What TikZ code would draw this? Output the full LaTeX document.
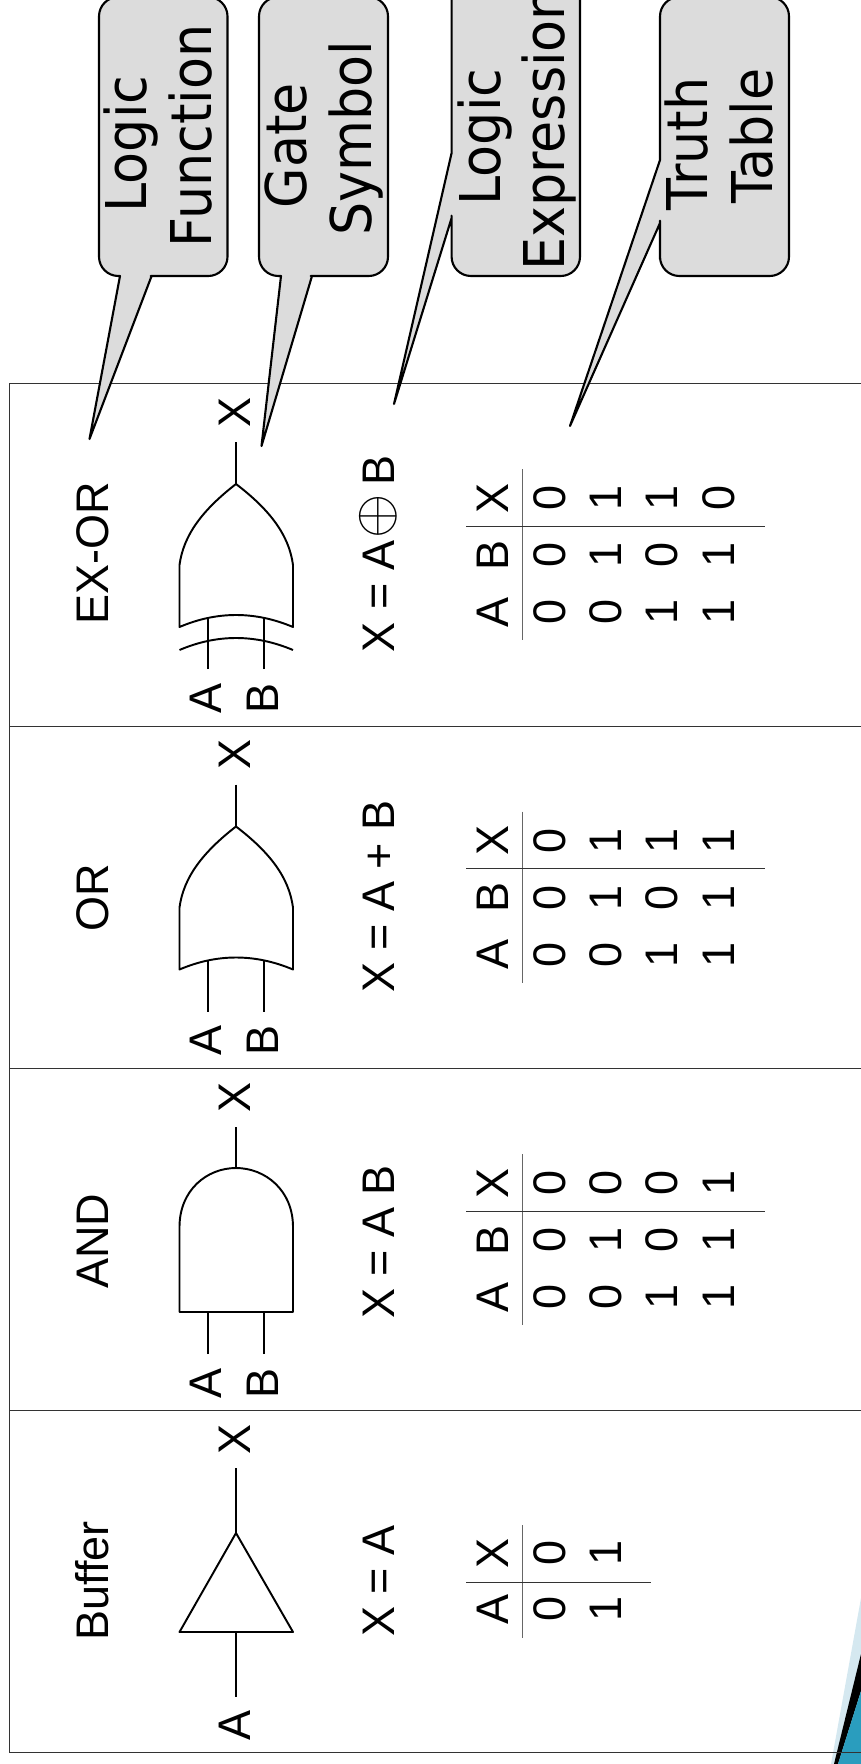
\documentclass[tikz,border=0pt]{standalone}
\usepackage{fontspec}
\setmainfont[FakeStretch=0.985]{Liberation Sans}
\newfontfamily\BubbleFont[FakeStretch=0.93]{DejaVu Sans}
\definecolor{BubbleFill}{HTML}{DCDCDC}
\definecolor{WedgeLight}{HTML}{D5E8F0}
\definecolor{WedgeTeal}{HTML}{2A9DBE}
\tikzset{
  gatetext/.style={rotate=90,anchor=base,inner sep=0pt,font=\fontsize{26}{30}\selectfont},
  bubbletext/.style={rotate=90,align=center,inner sep=0pt,font=\BubbleFont\fontsize{32}{36.5}\selectfont},
  bubble/.style={draw=black,fill=BubbleFill,line width=1.2pt,line join=round},
  gateline/.style={line width=1.1pt,line join=round},
  frameline/.style={line width=0.45pt,color=black!80},
}
\begin{document}
\begin{tikzpicture}[line cap=butt,x=0.02cm,y=-0.02cm]
  \useasboundingbox (0,0) rectangle (861,1764);
  \clip (0,0) rectangle (861,1764);
  % corner of the slide
  \fill[WedgeLight] (831,1764) -- (861,1598) -- (861,1764) -- cycle;
  \fill[black] (834,1764) -- (861,1654) -- (861,1691) -- (838,1764) -- cycle;
  \fill[WedgeTeal] (838,1764) -- (861,1691) -- (861,1764) -- cycle;
  % frame
  \draw[frameline] (861,383) -- (9,383) -- (9,1752) -- (861,1752);
  \foreach \y in {726,1068,1410}
  \draw[frameline] (9,\y) -- (861,\y);
  % callouts
  \coordinate (fnTip) at (89.5,439);
  \coordinate (symTip) at (261.5,446);
  \coordinate (exprTip) at (394,404);
  \coordinate (tblTip) at (570,426);
  \draw[bubble,rounded corners=11pt] (99,-3) -- (227.5,-3) -- (227.5,276) -- (170,276) [sharp corners] -- (151.6,276) -- (fnTip) -- (120,276) [rounded corners=11pt] -- (99,276) -- cycle;
  \draw[bubble,rounded corners=11pt] (259,-3) -- (388,-3) -- (388,276) -- (330,276) [sharp corners] -- (312,276) -- (symTip) -- (281,276) [rounded corners=11pt] -- (259,276) -- cycle;
  \draw[bubble,rounded corners=11pt] (451.6,-40) -- (580,-40) -- (580,276) -- (451.6,276) -- (451.6,235) [sharp corners] -- (451.6,218) -- (exprTip) -- (451.6,153) [rounded corners=11pt] -- cycle;
  \draw[bubble,rounded corners=11pt] (660,-3) -- (789,-3) -- (789,276) -- (660,276) -- (660,240) [sharp corners] -- (660,223) -- (tblTip) -- (660,160) [rounded corners=11pt] -- cycle;
  \node[bubbletext] (fnText) at (158,136) {Logic\kern9pt\\Function};
  \node[bubbletext] (symText) at (324,138) {Gate\kern9pt\\Symbol};
  \node[bubbletext] (exprText) at (517,129) {Logic\kern9pt\\Expression};
  \node[bubbletext] (tblText) at (719,136) {Truth\kern9pt\\Table};
  % names of the functions
  \node[gatetext] (xorName) at (108,553) {EX-OR};
  \node[gatetext] (orName) at (108,898) {OR};
  \node[gatetext] (andName) at (108,1241) {AND};
  \node[gatetext] (bufName) at (108,1581) {Buffer};
  % expressions
  \node[gatetext] (xorExpr) at (394,554) {X = A\kern1.5pt\raisebox{1pt}{\scalebox{1.3}{$\oplus$}}\kern4.5pt B};
  \node[gatetext] (orExpr) at (394,896.5) {X = A + B};
  \node[gatetext] (andExpr) at (394,1242) {X = A B};
  \node[gatetext] (bufExpr) at (394,1581) {X = A};
  % gate bodies
  \draw[gateline] (236,484) .. controls (270,510) and (289,535) .. (293,565) -- (293,627)
    .. controls (255,611) and (217,611) .. (179.5,627) -- (179.5,565)
    .. controls (183.5,535) and (202.5,510) .. (236,484);
  \draw[gateline] (179.5,650) .. controls (217,634) and (255,634) .. (293,650);
  \draw[gateline] (236,826.5) .. controls (270,852.5) and (289,877.5) .. (293,907.5) -- (293,969.5)
    .. controls (255,953.5) and (217,953.5) .. (179.5,969.5) -- (179.5,907.5)
    .. controls (183.5,877.5) and (202.5,852.5) .. (236,826.5);
  \draw[gateline] (179.5,1312) -- (293,1312) -- (293,1227) .. controls (293,1190) and (265,1168) .. (236,1168)
    .. controls (207,1168) and (179.5,1190) .. (179.5,1227) -- cycle;
  \draw[gateline] (236,1533) -- (293,1632) -- (179.5,1632) -- cycle;
  % pins, labels and truth tables of the two input gates
  \foreach \gname/\rowy/\pintop/\bodytop/\xvals in {xor/0/618/484/{0,1,1,0},or/342.5/618/484/{0,1,1,1},and/685/627/483/{0,0,0,1}}{
    \begin{scope}[shift={(0,\rowy)}]
      \node[gatetext] (\gname-X) at (250,412) {X};
      \node[gatetext] (\gname-A) at (221,698) {A};
      \node[gatetext] (\gname-B) at (278.6,698) {B};
      \coordinate (\gname-out) at (236,442);
      \coordinate (\gname-tip) at (236,\bodytop);
      \draw[gateline] (\gname-out) -- (\gname-tip);
      \coordinate (\gname-a1) at (208,669);
      \coordinate (\gname-a2) at (208,\pintop);
      \coordinate (\gname-b1) at (264,669);
      \coordinate (\gname-b2) at (264,\pintop);
      \draw[gateline] (\gname-a1) -- (\gname-a2);
      \draw[gateline] (\gname-b1) -- (\gname-b2);
      \draw[line width=0.5pt,color=black!60] (522,469) -- (522,640);
      \draw[line width=0.5pt,color=black!80] (466,526) -- (765,526);
      \node[gatetext] (\gname-hX) at (508,498) {X};
      \node[gatetext] (\gname-hB) at (508,555) {B};
      \node[gatetext] (\gname-hA) at (508,612) {A};
      \foreach \val [count=\i] in \xvals
      \node[gatetext] (\gname-x\i) at (508.6+56.4*\i,498) {\val};
      \foreach \val [count=\i] in {0,1,0,1}
      \node[gatetext] (\gname-b\i) at (508.6+56.4*\i,555) {\val};
      \foreach \val [count=\i] in {0,0,1,1}
      \node[gatetext] (\gname-a\i) at (508.6+56.4*\i,612) {\val};
    \end{scope}
  }
  % buffer
  \node[gatetext] (bufX) at (250,1439) {X};
  \node[gatetext] (bufA) at (250,1725) {A};
  \coordinate (bufOut) at (236,1468);
  \coordinate (bufTip) at (236,1533);
  \coordinate (bufBase) at (236,1632);
  \coordinate (bufIn) at (236,1697);
  \draw[gateline] (bufOut) -- (bufTip);
  \draw[gateline] (bufBase) -- (bufIn);
  \draw[line width=0.5pt,color=black!60] (522,1525) -- (522,1638);
  \draw[line width=0.5pt,color=black!80] (466,1582) -- (651,1582);
  \node[gatetext] (bufhX) at (508,1553) {X};
  \node[gatetext] (bufhA) at (508,1609) {A};
  \node[gatetext] (bufx1) at (565,1553) {0};
  \node[gatetext] (bufx2) at (621.4,1553) {1};
  \node[gatetext] (bufa1) at (565,1609) {0};
  \node[gatetext] (bufa2) at (621.4,1609) {1};
\end{tikzpicture}
\end{document}
